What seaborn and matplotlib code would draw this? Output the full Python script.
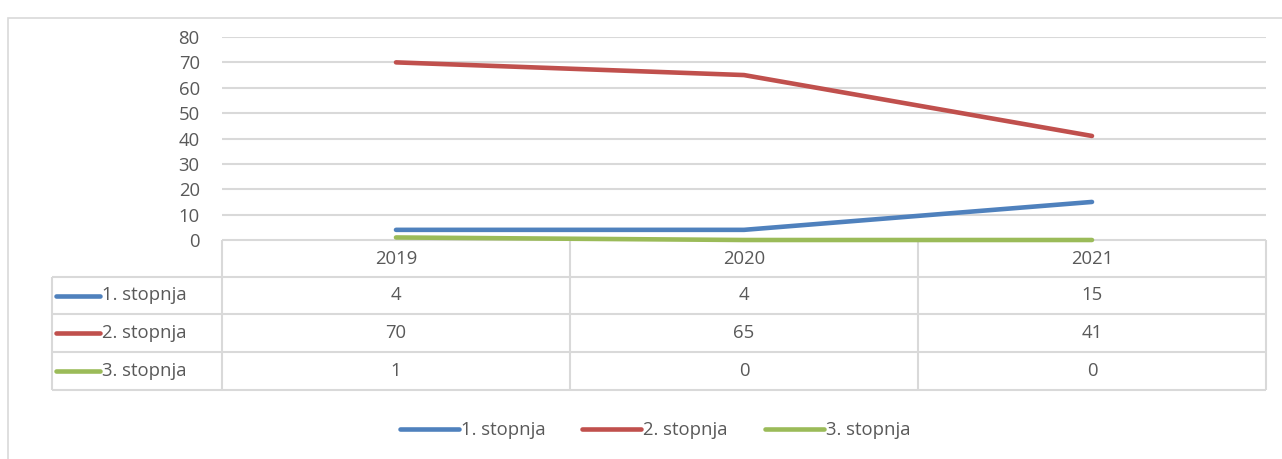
import numpy as np
import pandas as pd
import seaborn as sns
import matplotlib.pyplot as plt
from matplotlib.lines import Line2D
from matplotlib.patches import Rectangle

# chart data
years = ['2019', '2020', '2021']
stopnja_1 = [4, 4, 15]
stopnja_2 = [70, 65, 41]
stopnja_3 = [1, 0, 0]
series_names = ['1. stopnja', '2. stopnja', '3. stopnja']
colors = ['#4f81bd', '#c0504d', '#9bbb59']
y_ticks = [0, 10, 20, 30, 40, 50, 60, 70, 80]

df = pd.DataFrame({
    'year': years * 3,
    'x': list(range(len(years))) * 3,
    'value': stopnja_1 + stopnja_2 + stopnja_3,
    'series': [s for s in series_names for _ in years],
})

sns.set_theme(style='white')
plt.rcParams['font.family'] = ['Open Sans', 'DejaVu Sans']
txt = '#595959'
grid = '#d9d9d9'
fs = 13.3

W, H = 1282, 459
fig = plt.figure(figsize=(W / 100, H / 100), dpi=100)

def px_axes(x0, y0, x1, y1):
    # pixel box (top-down) to figure fraction
    return fig.add_axes([x0 / W, 1 - y1 / H, (x1 - x0) / W, (y1 - y0) / H])

# outer chart frame
fig.add_artist(Rectangle((8 / W, -0.05), 1.2, 1 - 18 / H + 0.05, transform=fig.transFigure,
                         fill=False, edgecolor=grid, lw=1.2))

# data table below plot
tx = px_axes(40, 240, 1270, 395)
tx.set_xlim(40, 1270)
tx.set_ylim(395, 240)
tx.axis('off')
left, lab, right = 52, 222, 1266
col_w = (right - lab) / len(years)
rows = [240, 277, 314, 352, 390]
tx.hlines(rows[0], lab, right, color=grid, lw=1.5)
tx.hlines(rows[1:], left, right, color=grid, lw=1.5)
tx.vlines([lab + col_w * i for i in range(len(years) + 1)], rows[0], rows[-1], color=grid, lw=1.5)
tx.vlines(left, rows[1], rows[-1], color=grid, lw=1.5)
for i, y in enumerate(years):
    tx.text(lab + col_w * (i + 0.5), (rows[0] + rows[1]) / 2, y, ha='center', va='center',
            color=txt, fontsize=fs)
table_vals = [stopnja_1, stopnja_2, stopnja_3]
for r, (name, vals, c) in enumerate(zip(series_names, table_vals, colors)):
    yc = (rows[r + 1] + rows[r + 2]) / 2
    tx.plot([56, 100], [yc, yc], color=c, lw=3.3, solid_capstyle='round')
    tx.text(102, yc, name, ha='left', va='center', color=txt, fontsize=fs)
    for i, v in enumerate(vals):
        tx.text(lab + col_w * (i + 0.5), yc, str(v), ha='center', va='center',
                color=txt, fontsize=fs)

# main plot (added after the table so the lines sit on top)
ax = px_axes(222, 37, 1266, 240)
ax.patch.set_alpha(0)
sns.lineplot(data=df, x='x', y='value', hue='series', palette=colors, lw=3.3, ax=ax,
             legend=False)
ax.set_xlim(-0.5, len(years) - 0.5)
ax.set_ylim(0, 80)
ax.set_yticks(y_ticks)
ax.set_yticklabels([str(t) for t in y_ticks], color=txt, fontsize=fs)
ax.set_xticks([])
ax.tick_params(axis='y', length=0, pad=16)
ax.grid(axis='y', color=grid, lw=1.5)
ax.set_axisbelow(True)
for s in ax.spines.values():
    s.set_visible(False)
ax.set_xlabel('')
ax.set_ylabel('')
for line in ax.lines:
    line.set_solid_capstyle('round')
    line.set_clip_on(False)

# bottom legend
handles = [Line2D([0], [0], color=c, lw=3.3, solid_capstyle='round') for c in colors]
leg = fig.legend(handles, series_names, loc='center', bbox_to_anchor=(655 / W, 1 - 430 / H),
                 ncol=3, frameon=False, fontsize=fs, handlelength=3.2, handletextpad=0.1,
                 columnspacing=2.0)
for t in leg.get_texts():
    t.set_color(txt)

fig.savefig('out.png', dpi=100)
